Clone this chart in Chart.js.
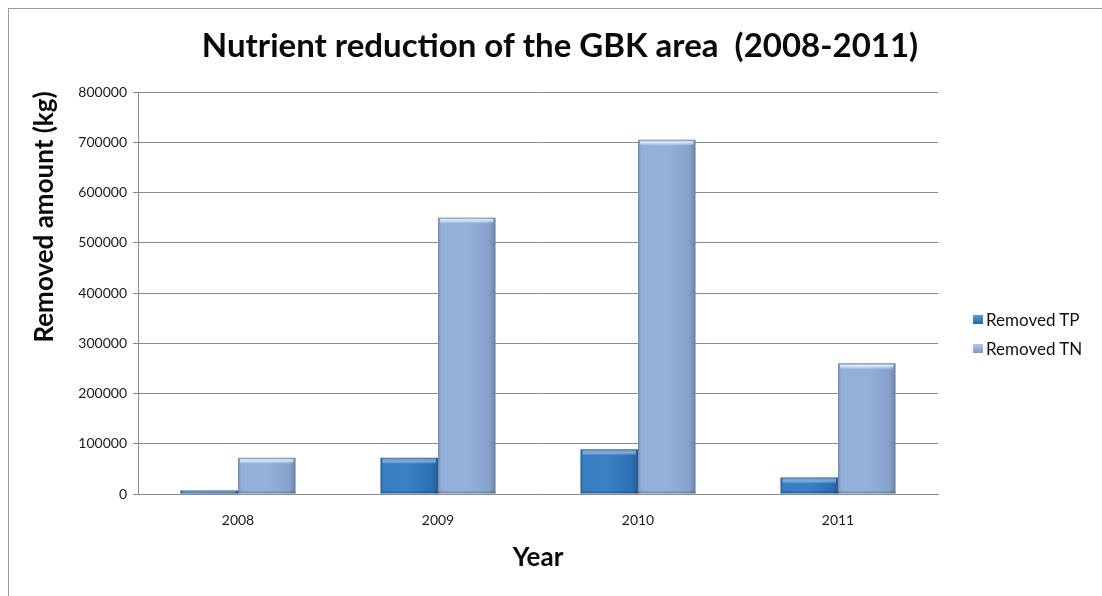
<!DOCTYPE html>
<html>
<head>
<meta charset="utf-8">
<script src="https://cdn.jsdelivr.net/npm/chart.js@4/dist/chart.umd.min.js"></script>
<style>
  html, body { margin: 0; padding: 0; background: #fff; overflow: hidden; }
  #wrap { position: relative; width: 1102px; height: 596px; }
  #frame { position: absolute; left: 8px; top: 8px; width: 1200px; height: 700px; border: 1px solid #9a9a9a; box-sizing: border-box; }
  canvas { position: absolute; left: 0; top: 0; }
  .leg { position: absolute; left: 973px; font: 17px Lato, "Open Sans", sans-serif; color: #111; display: flex; align-items: center; }
  .leg span.box { width: 10px; height: 9px; margin-right: 3px; display: inline-block; }
</style>
</head>
<body>
<div id="wrap">
  <div id="frame"></div>
  <canvas id="chart" width="1102" height="596"></canvas>
  <div class="leg" style="top:309px"><span class="box" style="background:linear-gradient(#5f9ad8,#2566a8)"></span>Removed TP</div>
  <div class="leg" style="top:338px"><span class="box" style="background:linear-gradient(#b5c9e8,#7c98c4)"></span>Removed TN</div>
</div>
<script>
const years = ["2008", "2009", "2010", "2011"];
const removedTP = [7000, 72000, 89000, 33000];
const removedTN = [72000, 550000, 705000, 260000];
const seriesNames = ["Removed TP", "Removed TN"];

const chartTitle = "Nutrient reduction of the GBK area  (2008-2011)";
const yTitle = "Removed amount (kg)";
const xTitle = "Year";

const topShine = ["rgba(110,165,225,0.95)", "rgba(225,245,255,0.9)"];

// excel-ish bevel shading over each bar
const bevelPlugin = {
  id: "bevel",
  afterDatasetsDraw(chart) {
    const ctx = chart.ctx;
    chart.data.datasets.forEach((ds, i) => {
      const meta = chart.getDatasetMeta(i);
      meta.data.forEach((bar) => {
        const left = bar.x - bar.width / 2;
        const top = bar.y;
        const h = bar.base - bar.y;
        const w = bar.width;
        ctx.save();
        const g = ctx.createLinearGradient(left, 0, left + w, 0);
        g.addColorStop(0, "rgba(0,0,0,0.22)");
        g.addColorStop(0.08, "rgba(255,255,255,0.05)");
        g.addColorStop(0.5, "rgba(255,255,255,0.06)");
        g.addColorStop(0.9, "rgba(0,0,0,0.06)");
        g.addColorStop(1, "rgba(0,0,0,0.25)");
        ctx.fillStyle = g;
        ctx.fillRect(left, top, w, h);
        const bh = Math.min(6, h);
        const tg = ctx.createLinearGradient(0, top, 0, top + bh);
        tg.addColorStop(0, "rgba(120,130,150,0.6)");
        tg.addColorStop(0.35, topShine[i]);
        tg.addColorStop(1, "rgba(255,255,255,0)");
        ctx.fillStyle = tg;
        ctx.fillRect(left + 2, top, w - 4, bh);
        // darker bottom edge
        ctx.fillStyle = "rgba(0,0,0,0.18)";
        ctx.fillRect(left, bar.base - 2, w, 2);
        ctx.restore();
      });
    });
  },
};

const textPlugin = {
  id: "texts",
  afterDraw(chart) {
    const ctx = chart.ctx;
    ctx.save();
    ctx.fillStyle = "#0a0a0a";
    ctx.textAlign = "center";
    ctx.textBaseline = "middle";
    ctx.font = "bold 33px Lato, 'Open Sans', sans-serif";
    ctx.fillText(chartTitle, 560, 46);
    ctx.font = "bold 26px Lato, 'Open Sans', sans-serif";
    ctx.fillText(xTitle, 538, 558);
    ctx.translate(45, 217);
    ctx.rotate(-Math.PI / 2);
    ctx.fillText(yTitle, 0, 0);
    ctx.restore();
  },
};

new Chart(document.getElementById("chart"), {
  type: "bar",
  data: {
    labels: years,
    datasets: [
      { label: seriesNames[0], data: removedTP, backgroundColor: "#2e76bf", borderWidth: 0 },
      { label: seriesNames[1], data: removedTN, backgroundColor: "#8dacd9", borderWidth: 0 },
    ],
  },
  options: {
    responsive: false,
    animation: false,
    layout: { padding: { top: 92, right: 164, left: 0, bottom: 0 } },
    plugins: { legend: { display: false }, title: { display: false }, tooltip: { enabled: false } },
    datasets: { bar: { barPercentage: 1, categoryPercentage: 0.575 } },
    scales: {
      x: {
        grid: { display: false },
        border: { display: true, color: "#8a8a8a" },
        ticks: { color: "#1a1a1a", font: { family: "Lato, 'Open Sans', sans-serif", size: 14 }, padding: 10 },
        afterFit(scale) { scale.height = 102; },
      },
      y: {
        min: 0,
        max: 800000,
        ticks: {
          stepSize: 100000,
          color: "#1a1a1a",
          font: { family: "Lato, 'Open Sans', sans-serif", size: 14 },
          padding: 6,
          callback: (v) => String(v),
        },
        grid: { color: "#8a8a8a", tickLength: 5 },
        border: { display: true, color: "#8a8a8a" },
        afterFit(scale) { scale.width = 138; },
      },
    },
  },
  plugins: [bevelPlugin, textPlugin],
});
</script>
</body>
</html>
